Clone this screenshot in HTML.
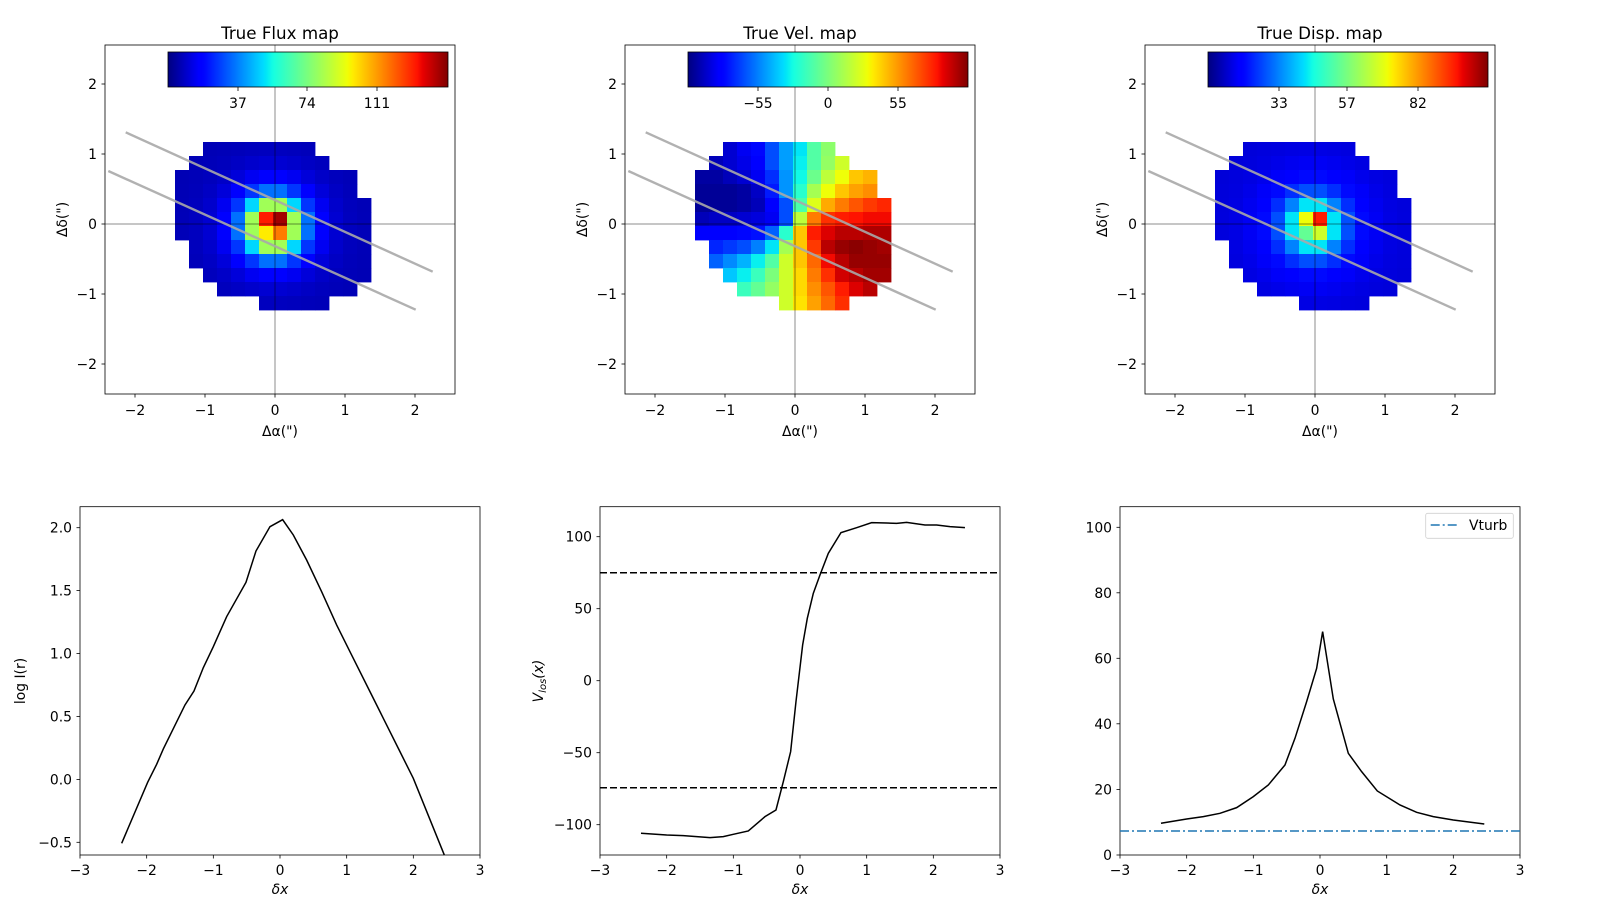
<!DOCTYPE html>
<html><head><meta charset="utf-8">
<style>
html,body{margin:0;padding:0;background:#fff;}
svg{display:block;}
text{font-family:"DejaVu Sans","Liberation Sans",sans-serif;fill:#000;}
.t{font-size:13.9px;}
.ti{font-size:16.7px;}
</style></head>
<body>
<svg id="s" width="1600" height="900" viewBox="0 0 1600 900" xmlns="http://www.w3.org/2000/svg">
<defs id="defs"></defs>
<g id="maps"></g>

<g>
<rect x="80" y="506.7" width="400" height="348.3" fill="none" stroke="#000" stroke-width="0.8"/>
<g transform="translate(0,495) scale(0.3333)">
<polyline fill="none" stroke="#000" stroke-width="4.5" points="365,1045 443,862 470,808 490,762 555,630 582,588 610,518 640,455 680,365 738,262 768,168 810,95 848,74 880,120 920,195 965,290 1010,390 1050,470 1110,590 1150,670 1200,770 1240,850 1333,1080"/>
</g>
</g>
<g>
<rect x="600" y="506.7" width="400" height="348.3" fill="none" stroke="#000" stroke-width="0.8"/>
<line x1="600" x2="1000" y1="572.7" y2="572.7" stroke="#000" stroke-width="1.5" stroke-dasharray="7,3"/>
<line x1="600" x2="1000" y1="787.7" y2="787.7" stroke="#000" stroke-width="1.5" stroke-dasharray="7,3"/>
<g transform="translate(520,495) scale(0.3333)">
<polyline fill="none" stroke="#000" stroke-width="4.5" points="363,1015 440,1020 490,1022 570,1028 610,1025 640,1018 685,1008 735,965 768,945 790,860 812,770 828,620 848,450 862,370 880,295 900,240 925,175 963,113 1010,98 1055,83 1100,84 1130,85 1160,82 1215,90 1250,90 1290,95 1335,98"/>
</g>
</g>
<g>
<rect x="1120" y="506.7" width="400" height="348.3" fill="none" stroke="#000" stroke-width="0.8"/>
<line x1="1120" x2="1520" y1="831" y2="831" stroke="#1f77b4" stroke-width="1.5" stroke-dasharray="9,3,2,3"/>
<g transform="translate(1040,495) scale(0.3333)">
<polyline fill="none" stroke="#000" stroke-width="4.5" points="363,985 440,972 490,965 540,955 590,938 640,905 685,870 735,810 765,730 800,620 830,520 848,410 880,612 925,775 965,830 1012,888 1080,930 1130,952 1180,965 1240,975 1333,987"/>
</g>
<rect x="1425.7" y="513.3" width="87.6" height="25" rx="2" fill="#fff" fill-opacity="0.8" stroke="#d0d0d0" stroke-width="0.8"/>
<line x1="1430.7" x2="1458.3" y1="525" y2="525" stroke="#1f77b4" stroke-width="1.5" stroke-dasharray="9,3,2,3"/>
<text class="t" x="1469" y="530">Vturb</text>
</g>
<g id="ticks"></g>
</svg>
<script>
(function(){
var NS="http://www.w3.org/2000/svg";
function el(p,n,a,txt){var e=document.createElementNS(NS,n);for(var k in a)e.setAttribute(k,a[k]);if(txt!=null)e.textContent=txt;p.appendChild(e);return e;}
function interp(pts,x){for(var i=1;i<pts.length;i++){if(x<=pts[i][0]){var a=pts[i-1],b=pts[i];return a[1]+(b[1]-a[1])*(x-a[0])/(b[0]-a[0]);}}return pts[pts.length-1][1];}
var R=[[0,0],[0.35,0],[0.66,1],[0.89,1],[1,0.5]],G=[[0,0],[0.125,0],[0.375,1],[0.64,1],[0.91,0],[1,0]],B=[[0,0.5],[0.11,1],[0.34,1],[0.65,0],[1,0]];
function jet(x){x=Math.max(0,Math.min(1,x));return "rgb("+Math.round(255*interp(R,x))+","+Math.round(255*interp(G,x))+","+Math.round(255*interp(B,x))+")";}
var defs=document.getElementById("defs");
var lg=el(defs,"linearGradient",{id:"jet",x1:"0",x2:"1",y1:"0",y2:"0"});
for(var i=0;i<=100;i++){el(lg,"stop",{offset:(i/100),"stop-color":jet(i/100)});}
var maps=document.getElementById("maps");
var mask=[[2,9],[1,10],[0,12],[0,12],[0,13],[0,13],[0,13],[1,13],[1,13],[2,13],[3,12],[6,10]];
var vel=[
[0,0,0.07,0.1,0.13,0.2,0.28,0.35,0.45,0.52],
[0,0.05,0.07,0.09,0.12,0.2,0.28,0.36,0.45,0.53,0.6],
[0.03,0.03,0.05,0.07,0.1,0.17,0.27,0.37,0.48,0.58,0.64,0.7,0.72],
[0.02,0.02,0.02,0.03,0.06,0.15,0.27,0.4,0.55,0.64,0.7,0.74,0.76],
[0.02,0.02,0.02,0.03,0.05,0.12,0.2,0.44,0.62,0.73,0.78,0.82,0.85,0.87],
[0.05,0.06,0.06,0.07,0.08,0.1,0.2,0.58,0.78,0.86,0.88,0.89,0.9,0.9],
[0.12,0.12,0.12,0.13,0.14,0.22,0.4,0.7,0.88,0.92,0.95,0.95,0.96,0.96],
[0,0.16,0.18,0.2,0.25,0.35,0.55,0.7,0.85,0.95,0.98,0.99,0.98,0.97],
[0,0.22,0.26,0.3,0.36,0.45,0.6,0.7,0.8,0.9,0.95,0.98,0.98,0.98],
[0,0,0.32,0.36,0.42,0.5,0.6,0.68,0.78,0.86,0.93,0.95,0.97,0.97],
[0,0,0,0.42,0.47,0.53,0.6,0.68,0.76,0.82,0.88,0.92,0.95],
[0,0,0,0,0,0,0.6,0.67,0.74,0.8,0.86]];
function dist(c,r){return Math.hypot(c+0.5-7,r+0.5-6)*0.2;}
function flux(c,r){
 if(c==7&&r==5)return 0.97;if(c==6&&r==5)return 0.88;if(c==7&&r==6)return 0.78;if(c==6&&r==6)return 0.66;
 return Math.min(0.55,0.045+0.5*Math.exp(-(dist(c,r)-0.316)/0.2));}
function disp(c,r){
 if(c==7&&r==5)return 0.88;if(c==6&&r==5)return 0.64;if(c==7&&r==6)return 0.6;if(c==6&&r==6)return 0.47;
 return Math.min(0.36,0.075+0.27*Math.exp(-(dist(c,r)-0.32)/0.25));}
var fns=[flux,function(c,r){return vel[r][c];},disp];
var titles=["True Flux map","True Vel. map","True Disp. map"];
var cbt=[[[238,"37"],[307,"74"],[377,"111"]],[[758,"\u221255"],[828,"0"],[898,"55"]],[[1279,"33"],[1347,"57"],[1418,"82"]]];
for(var p=0;p<3;p++){
 var ox=520*p, g=el(maps,"g",{});
 var cp=el(defs,"clipPath",{id:"cp"+p});el(cp,"rect",{x:105+ox,y:45,width:350,height:349});
 var gm=el(g,"g",{"clip-path":"url(#cp"+p+")"});
 for(var r=0;r<12;r++)for(var c=mask[r][0];c<=mask[r][1];c++){
  el(gm,"rect",{x:175+ox+14*c,y:142+14*r,width:14.4,height:14.4,fill:jet(fns[p](c,r))});}
 el(gm,"line",{x1:275+ox,x2:275+ox,y1:45,y2:394,stroke:"#000","stroke-opacity":"0.45","stroke-width":"1"});
 el(gm,"line",{x1:105+ox,x2:455+ox,y1:224,y2:224,stroke:"#000","stroke-opacity":"0.45","stroke-width":"1"});
 el(gm,"line",{x1:125.7+ox,y1:132.3,x2:432.7+ox,y2:271.7,stroke:"#a8a8a8","stroke-opacity":"0.9","stroke-width":"2.4"});
 el(gm,"line",{x1:108.3+ox,y1:171,x2:415.7+ox,y2:309.7,stroke:"#a8a8a8","stroke-opacity":"0.9","stroke-width":"2.4"});
 el(g,"rect",{x:105+ox,y:45,width:350,height:349,fill:"none",stroke:"#000","stroke-width":"0.8"});
 el(g,"rect",{x:168+ox,y:52,width:280,height:35,fill:"url(#jet)",stroke:"#000","stroke-width":"0.8"});
 for(var k=0;k<3;k++){var tx=cbt[p][k][0];el(g,"line",{x1:tx,x2:tx,y1:87,y2:91,stroke:"#000","stroke-width":"0.8"});
  el(g,"text",{x:tx,y:108,"text-anchor":"middle","class":"t"},cbt[p][k][1]);}
 el(g,"text",{x:280+ox,y:39,"text-anchor":"middle","class":"ti"},titles[p]);
 var xs=[-2,-1,0,1,2];
 for(var k=0;k<5;k++){var v=xs[k],tx=275+ox+70*v,ty=224-70*v,lab=(v<0?"\u2212"+(-v):""+v);
  el(g,"line",{x1:tx,x2:tx,y1:394,y2:397.5,stroke:"#000","stroke-width":"0.8"});
  el(g,"text",{x:tx,y:415,"text-anchor":"middle","class":"t"},lab);
  el(g,"line",{x1:105+ox,x2:101.5+ox,y1:ty,y2:ty,stroke:"#000","stroke-width":"0.8"});
  el(g,"text",{x:97+ox,y:ty+5,"text-anchor":"end","class":"t"},lab);}
 el(g,"text",{x:280+ox,y:436,"text-anchor":"middle","class":"t"},"\u0394\u03b1(\")");
 el(g,"text",{x:0,y:0,"text-anchor":"middle","class":"t",transform:"translate("+(67+ox)+",219.5) rotate(-90)"},"\u0394\u03b4(\")");
}
var tg=document.getElementById("ticks");
var yt=[
 [[527.7,"2.0"],[590.6,"1.5"],[653.6,"1.0"],[716.5,"0.5"],[779.5,"0.0"],[842.3,"\u22120.5"]],
 [[536.7,"100"],[608.7,"50"],[680.7,"0"],[752.7,"\u221250"],[824.7,"\u2212100"]],
 [[527.3,"100"],[592.8,"80"],[658.3,"60"],[723.8,"40"],[789.4,"20"],[855,"0"]]];
for(var p=0;p<3;p++){
 var ox=520*p;
 for(var v=-3;v<=3;v++){var tx=80+ox+66.667*(v+3);
  el(tg,"line",{x1:tx,x2:tx,y1:855,y2:858.5,stroke:"#000","stroke-width":"0.8"});
  el(tg,"text",{x:tx,y:875,"text-anchor":"middle","class":"t"},v<0?"\u2212"+(-v):""+v);}
 for(var k=0;k<yt[p].length;k++){var ty=yt[p][k][0];
  el(tg,"line",{x1:80+ox,x2:76.5+ox,y1:ty,y2:ty,stroke:"#000","stroke-width":"0.8"});
  el(tg,"text",{x:72+ox,y:ty+5,"text-anchor":"end","class":"t"},yt[p][k][1]);}
 el(tg,"text",{x:280+ox,y:894,"text-anchor":"middle","class":"t","font-style":"italic"},"\u03b4x");
}
el(tg,"text",{x:0,y:0,"text-anchor":"middle","class":"t",transform:"translate(25,681) rotate(-90)"},"log I(r)");
var vl=el(tg,"text",{x:0,y:0,"text-anchor":"middle","class":"t","font-style":"italic",transform:"translate(543,681) rotate(-90)"});
vl.appendChild(document.createTextNode("V"));
el(vl,"tspan",{"font-size":"10px",dy:"3"},"los");
el(vl,"tspan",{dy:"-3"},"(x)");
})();
</script>
</body></html>
